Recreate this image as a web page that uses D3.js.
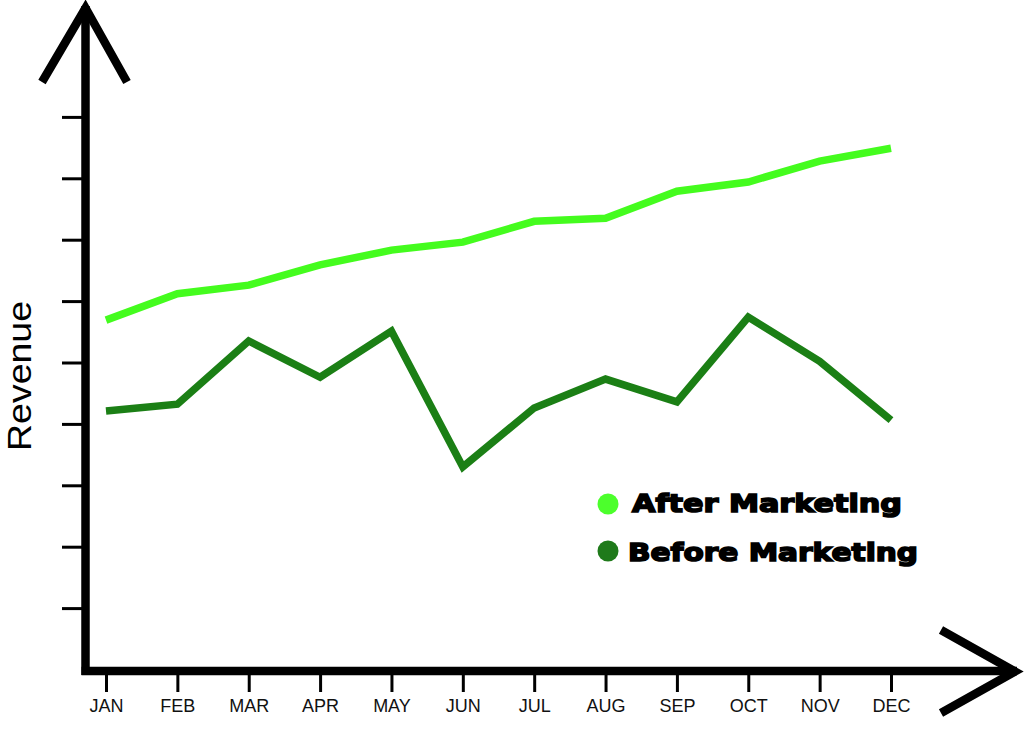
<!DOCTYPE html>
<html>
<head>
<meta charset="utf-8">
<script src="https://cdn.jsdelivr.net/npm/d3@7"></script>
<style>
  html, body { margin: 0; padding: 0; background: #fff; }
  svg { display: block; }
</style>
</head>
<body>
<svg id="chart" width="1024" height="733"></svg>
<script>
// ---- data ----
const months = ["JAN","FEB","MAR","APR","MAY","JUN","JUL","AUG","SEP","OCT","NOV","DEC"];
const afterMarketing  = [5.69, 6.12, 6.26, 6.59, 6.83, 6.96, 7.30, 7.35, 7.79, 7.94, 8.28, 8.49];
const beforeMarketing = [4.21, 4.32, 5.35, 4.76, 5.51, 3.30, 4.26, 4.73, 4.36, 5.74, 5.02, 4.06];
const yTickValues = [1, 2, 3, 4, 5, 6, 7, 8, 9];
const seriesNames = ["After Marketing", "Before Marketing"];

const seriesColors = ["#44fc1e", "#1b7f15"];
const legendColors = ["#4cff2c", "#1f7a1a"];

const svg = d3.select("#chart");

const x = d3.scalePoint().domain(months).range([106, 891]);
const y = d3.scaleLinear().domain([0, 10]).range([669.5, 55.5]);

// y ticks
const yAxis = d3.axisLeft(y).tickValues(yTickValues).tickSize(21).tickFormat("");
const gy = svg.append("g").attr("transform", "translate(83,0)").call(yAxis);
gy.select(".domain").remove();
gy.selectAll(".tick line").attr("stroke", "#000").attr("stroke-width", 3);

// x ticks + labels
const xAxis = d3.axisBottom(x).tickSize(17).tickPadding(7);
const gx = svg.append("g").attr("transform", "translate(0,675)").call(xAxis);
gx.select(".domain").remove();
gx.selectAll(".tick line").attr("stroke", "#000").attr("stroke-width", 3);
gx.selectAll(".tick text")
  .attr("fill", "#111")
  .style("font-family", "'Liberation Sans', Arial, sans-serif")
  .style("font-size", "18px");

// axis lines
const axisG = svg.append("g").attr("fill", "none").attr("stroke", "#000")
  .attr("stroke-width", 8.5).attr("stroke-linejoin", "miter").attr("stroke-miterlimit", 10);
axisG.append("path").attr("d", "M85.5,6 L85.5,675");
axisG.append("path").attr("d", "M81.5,671 L1017,671");
axisG.append("path").attr("d", "M42,82 L85.5,8 L127,82");
axisG.append("path").attr("d", "M941,630 L1015,671.5 L941,713");

// lines
const line = d3.line().x((d, i) => x(months[i])).y(d => y(d));
[afterMarketing, beforeMarketing].forEach((vals, k) => {
  svg.append("path")
    .datum(vals)
    .attr("fill", "none")
    .attr("stroke", seriesColors[k])
    .attr("stroke-width", 7.5)
    .attr("stroke-linejoin", "miter")
    .attr("stroke-linecap", "butt")
    .attr("d", line);
});

// axis title
svg.append("text")
  .attr("transform", "translate(31,376) rotate(-90)")
  .attr("text-anchor", "middle")
  .attr("textLength", 150).attr("lengthAdjust", "spacingAndGlyphs")
  .style("font-family", "'Liberation Sans', Arial, sans-serif")
  .style("font-size", "34px")
  .attr("fill", "#000")
  .text("Revenue");

// legend
const legendPos = [
  { cx: 608, cy: 504, tx: 632, ty: 512, len: 270 },
  { cx: 608, cy: 551, tx: 628, ty: 561, len: 290 }
];
seriesNames.forEach((name, k) => {
  const p = legendPos[k];
  svg.append("circle").attr("cx", p.cx).attr("cy", p.cy).attr("r", 10.5).attr("fill", legendColors[k]);
  svg.append("text")
    .attr("x", p.tx).attr("y", p.ty)
    .attr("textLength", p.len).attr("lengthAdjust", "spacingAndGlyphs")
    .style("font-family", "'DejaVu Sans', 'Liberation Sans', sans-serif")
    .style("font-weight", "bold")
    .style("font-size", "25px")
    .attr("fill", "#000").attr("stroke", "#000").attr("stroke-width", 1.6)
    .text(name);
});
</script>
</body>
</html>
